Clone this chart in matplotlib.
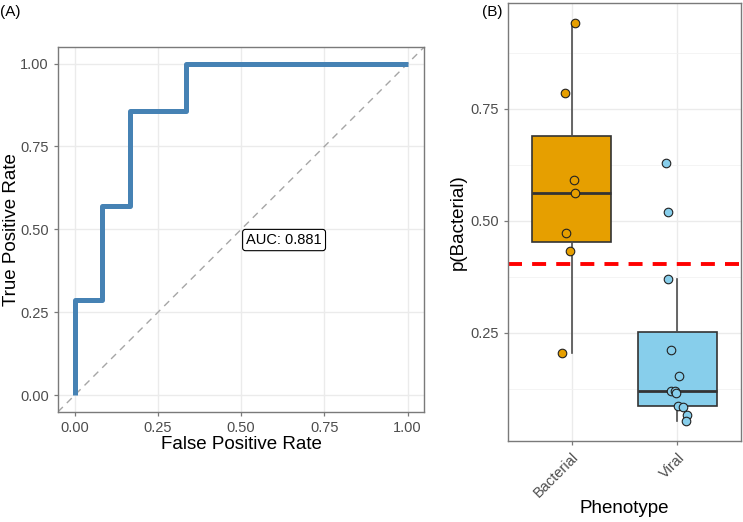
import numpy as np
import matplotlib
matplotlib.use("Agg")
import matplotlib.pyplot as plt

plt.rcParams['font.family'] = ['Liberation Sans', 'DejaVu Sans']

# ROC curve (A)
fpr = [0.0, 0.0, 1/12, 1/12, 2/12, 2/12, 4/12, 4/12, 1.0]
tpr = [0.0, 2/7, 2/7, 4/7, 4/7, 6/7, 6/7, 1.0, 1.0]
auc_text = "AUC: 0.881"

# predicted probabilities (B)
phenotypes = ["Bacterial", "Viral"]
p_bacterial = [0.942, 0.786, 0.592, 0.5625, 0.473, 0.433, 0.205]
p_viral = [0.629, 0.520, 0.369, 0.211, 0.154, 0.1195, 0.120, 0.115, 0.087, 0.083, 0.066, 0.052]
jitter_bacterial = [0.03, -0.065, 0.02, 0.035, -0.055, -0.02, -0.095]
jitter_viral = [-0.11, -0.093, -0.087, -0.06, 0.02, -0.063, -0.02, -0.016, 0.006, 0.053, 0.093, 0.08]
threshold = 0.404

colors = ["#E69F00", "#87CEEB"]
border = "#7a7a7a"
grid = "#ebebeb"
tick_col = "#4d4d4d"


def style_axes(ax):
    for s in ax.spines.values():
        s.set_color(border)
        s.set_linewidth(1.0)
    ax.tick_params(colors=border, labelcolor=tick_col, labelsize=10.5, length=3, width=0.9)
    ax.tick_params(which='minor', length=0)
    ax.set_axisbelow(True)


fig = plt.figure(figsize=(7.43, 5.22), dpi=100)

# panel A
ax1 = fig.add_axes([0.078, 0.211, 0.493, 0.699])
ax1.grid(True, color=grid, linewidth=1.0)
ax1.plot([-0.05, 1.05], [-0.05, 1.05], color="#a6a6a6", linestyle=(0, (5, 4)), linewidth=1.0)
ax1.plot(fpr, tpr, color="#4682B4", linewidth=3.6, solid_capstyle='butt')
ax1.set_xlim(-0.05, 1.05)
ax1.set_ylim(-0.05, 1.05)
ticks = [0.0, 0.25, 0.5, 0.75, 1.0]
ax1.set_xticks(ticks)
ax1.set_yticks(ticks)
ax1.set_xticklabels([f"{t:.2f}" for t in ticks])
ax1.set_yticklabels([f"{t:.2f}" for t in ticks])
ax1.set_xlabel("False Positive Rate", fontsize=13.5, labelpad=1)
ax1.set_ylabel("True Positive Rate", fontsize=13.5, labelpad=0)
ax1.text(0.629, 0.468, auc_text, fontsize=10.5, ha='center', va='center',
         bbox=dict(boxstyle="round,pad=0.25,rounding_size=0.2", fc="white", ec="black", lw=0.8))
style_axes(ax1)

# panel B
ax2 = fig.add_axes([0.684, 0.155, 0.313, 0.839])
ax2.grid(True, color=grid, linewidth=1.0)
ax2.set_yticks([0.125, 0.375, 0.625, 0.875], minor=True)
ax2.grid(True, which='minor', axis='y', color="#f2f2f2", linewidth=0.6)
groups = [p_bacterial, p_viral]
bp = ax2.boxplot(groups, positions=[1, 2], widths=0.75, patch_artist=True,
                 showfliers=False, whis=1.5,
                 medianprops=dict(color="#333333", linewidth=2.0),
                 boxprops=dict(edgecolor="#333333", linewidth=1.2),
                 whiskerprops=dict(color="#4d4d4d", linewidth=1.2),
                 capprops=dict(linewidth=0))
for patch, c in zip(bp['boxes'], colors):
    patch.set_facecolor(c)
ax2.axhline(threshold, color="#ff0000", linewidth=2.8, linestyle=(0, (3.6, 2.6)))
for i, (vals, jit) in enumerate(zip(groups, [jitter_bacterial, jitter_viral])):
    xs = [i + 1 + j for j in jit]
    ax2.scatter(xs, vals, s=38, facecolor=colors[i], edgecolor="#222222", linewidth=0.8, zorder=4)
ax2.set_xlim(0.4, 2.6)
ax2.set_ylim(0.0075, 0.9865)
ax2.set_yticks([0.25, 0.5, 0.75])
ax2.set_yticklabels(["0.25", "0.50", "0.75"])
ax2.set_xticks([1, 2])
ax2.set_xticklabels(phenotypes, rotation=45, ha='right', rotation_mode='anchor')
ax2.set_xlabel("Phenotype", fontsize=13.5, labelpad=0)
ax2.set_ylabel("p(Bacterial)", fontsize=13.5, labelpad=3)
style_axes(ax2)

fig.text(0.0, 0.977, "(A)", fontsize=11, ha='left', va='center')
fig.text(0.649, 0.977, "(B)", fontsize=11, ha='left', va='center')

fig.savefig("out.png", dpi=100)
